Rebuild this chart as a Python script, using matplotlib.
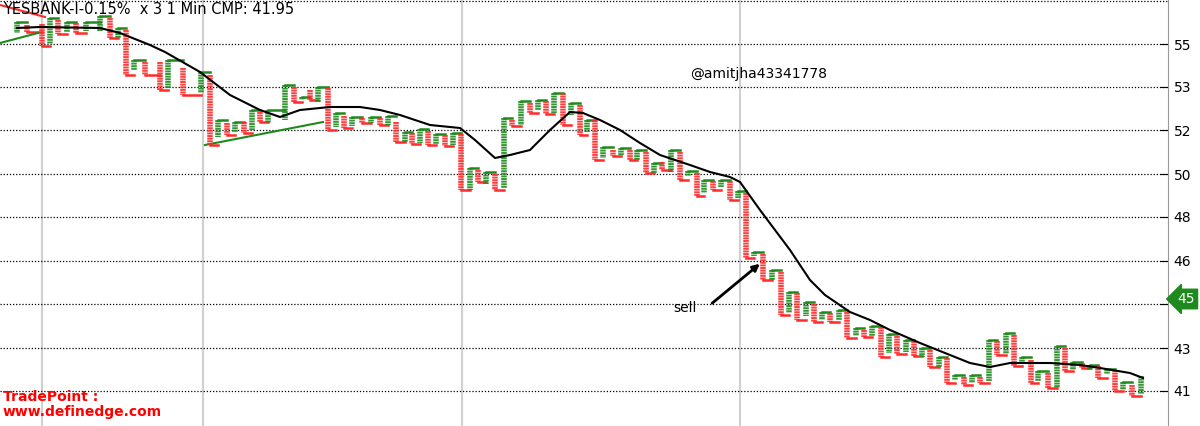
import numpy as np
import matplotlib
matplotlib.use("Agg")
import matplotlib.pyplot as plt

# P&F columns: x position, top, bottom (chart's own vertical scale), colour
col_x = [17, 27, 42, 50, 58, 67, 76, 86, 100, 110, 118, 126, 134, 145, 160, 168, 183, 201,
         210, 218, 227, 235, 244, 252, 260, 268, 285, 294, 302, 310, 318, 328, 336, 344, 352,
         362, 371, 380, 388, 396, 405, 412, 420, 428, 436, 445, 453, 461, 470, 478, 486, 495,
         504, 512, 521, 530, 538, 546, 554, 563, 571, 580, 587, 595, 603, 613, 621, 630, 637,
         646, 654, 662, 671, 680, 688, 697, 704, 713, 721, 730, 738, 746, 754, 763, 772, 781,
         789, 797, 806, 814, 822, 830, 839, 847, 856, 864, 872, 881, 889, 897, 906, 914, 922,
         930, 939, 947, 955, 964, 972, 980, 989, 997, 1006, 1014, 1022, 1031, 1038, 1048, 1057,
         1065, 1073, 1082, 1090, 1098, 1107, 1115, 1123, 1132, 1141]
col_top = [22, 25, 24, 18, 20, 22, 23, 22, 16, 18, 28, 30, 60, 62, 62, 60, 68, 72,
           75, 120, 123, 122, 122, 110, 112, 110, 85, 87, 97, 90, 87, 88, 113, 116, 117,
           118, 117, 118, 116, 122, 132, 133, 129, 131, 134, 135, 133, 134, 168, 170, 172, 174,
           118, 120, 101, 103, 100, 101, 93, 93, 103, 105, 120, 120, 147, 150, 148, 150, 150,
           152, 163, 162, 150, 152, 171, 173, 180, 181, 180, 181, 191, 193, 252, 254, 270, 272,
           292, 293, 302, 304, 312, 313, 310, 312, 328, 330, 326, 327, 334, 336, 340, 341, 348,
           350, 357, 358, 375, 377, 375, 377, 340, 341, 333, 335, 357, 360, 371, 373, 346,
           348, 362, 363, 365, 366, 369, 370, 382, 385, 376]
col_bot = [33, 32, 46, 44, 34, 32, 33, 31, 31, 38, 38, 75, 70, 75, 90, 88, 95, 93,
           145, 137, 135, 132, 133, 130, 122, 123, 120, 102, 100, 100, 102, 130, 127, 128, 126,
           123, 123, 125, 125, 142, 142, 144, 143, 145, 144, 146, 145, 190, 190, 182, 184, 190,
           188, 126, 125, 113, 110, 114, 113, 125, 115, 135, 132, 160, 158, 156, 155, 160, 160,
           173, 173, 170, 172, 180, 176, 196, 193, 190, 187, 200, 198, 258, 256, 280, 280, 315,
           313, 320, 316, 322, 320, 322, 320, 338, 336, 337, 336, 357, 353, 354, 352, 356, 357,
           367, 367, 383, 380, 385, 383, 383, 381, 355, 354, 366, 364, 383, 381, 388, 388,
           371, 370, 368, 370, 378, 374, 391, 390, 396, 394]
col_up = [1, 0, 0, 1, 0, 1, 0, 1, 1, 0, 1, 0, 1, 0, 0, 1, 0, 1,
          0, 1, 0, 1, 0, 1, 0, 1, 1, 0, 1, 0, 1, 0, 1, 0, 1,
          0, 1, 0, 1, 0, 1, 0, 1, 0, 1, 0, 1, 0, 1, 0, 1, 0,
          1, 0, 1, 0, 1, 0, 1, 0, 1, 0, 1, 0, 1, 0, 1, 0, 1,
          0, 1, 0, 1, 0, 1, 0, 1, 0, 1, 0, 1, 0, 1, 0, 1, 0,
          1, 0, 1, 0, 1, 0, 1, 0, 1, 0, 1, 0, 1, 0, 1, 0, 1,
          0, 1, 0, 1, 0, 1, 0, 1, 0, 1, 0, 1, 0, 1, 0, 1,
          0, 1, 0, 1, 0, 1, 0, 1, 0, 1]

# moving average line
ma_x = [17, 40, 100, 120, 150, 165, 200, 230, 260, 280, 300, 330, 360, 380, 400, 430, 460, 475,
        495, 510, 530, 550, 570, 583, 600, 620, 640, 660, 690, 710, 730, 740, 760, 790, 810, 825,
        850, 870, 890, 920, 950, 970, 990, 1010, 1050, 1080, 1100, 1130, 1143]
ma_y = [28, 27, 28, 33, 45, 52, 72, 95, 110, 117, 110, 107, 107, 110, 115, 125, 128, 140,
        158, 155, 150, 130, 112, 113, 120, 130, 143, 155, 165, 172, 177, 182, 210, 250, 280, 295,
        312, 320, 330, 343, 355, 363, 367, 363, 363, 365, 368, 373, 378]

tick_pos = [44, 87, 130, 174, 217, 261, 304, 348, 391]
tick_lab = ["55", "53", "52", "50", "48", "46", "", "43", "41"]
GREEN, RED = "#1e8a1e", "#ff2a2a"

fig = plt.figure(figsize=(12, 4.26), dpi=100)
ax = fig.add_axes([0, 0, 1168 / 1200, 1])
ax.set_xlim(0, 1168)
ax.set_ylim(426, 0)

for y in [1] + tick_pos:
    ax.axhline(y, color="black", ls=(0, (1, 1.5)), lw=0.9, zorder=1)
for x in [42, 203, 462, 740]:
    ax.axvline(x, color="#d0d0d0", lw=1.5, zorder=0)

n = len(col_x)
for i in range(n):
    c = GREEN if col_up[i] else RED
    ax.plot([col_x[i], col_x[i]], [col_top[i], col_bot[i]], color=c, lw=4,
            ls=(0, (0.35, 0.12)), solid_capstyle="butt", alpha=0.9, zorder=3)
    if i < n - 1:
        end = col_top[i] if col_up[i] else col_bot[i]
        ax.plot([col_x[i], col_x[i + 1]], [end, end], color=c, lw=1.8, zorder=2)

ax.plot(ma_x, ma_y, color="black", lw=1.5, zorder=4)

# trend lines
ax.plot([0, 38], [43, 33], color=GREEN, lw=1.5)
ax.plot([205, 323], [145, 122], color=GREEN, lw=1.5)
ax.plot([0, 45], [5, 17], color=RED, lw=1.5)

ax.yaxis.tick_right()
ax.set_yticks(tick_pos)
ax.set_yticklabels(tick_lab, fontsize=10)
ax.tick_params(axis="y", length=6, direction="in", pad=4)
ax.set_xticks([])
for s in ["top", "left", "bottom"]:
    ax.spines[s].set_visible(False)
ax.spines["right"].set_color("#999999")

ax.annotate("45", xy=(1168, 299), xytext=(1186, 299), xycoords="data",
            ha="center", va="center", color="white", fontsize=10, annotation_clip=False,
            bbox=dict(boxstyle="larrow,pad=0.2", fc="#1e8a1e", ec="#1e8a1e"))

ax.text(3, 9, "YESBANK-I-0.15%  x 3 1 Min CMP: 41.95", fontsize=10.5, va="center")
ax.text(690, 74, "@amitjha43341778", fontsize=10, va="center")
ax.text(673, 308, "sell", fontsize=10, va="center")
ax.annotate("", xy=(762, 262), xytext=(710, 305),
            arrowprops=dict(arrowstyle="-|>", color="black", lw=2))
ax.text(3, 397, "TradePoint :", fontsize=10, color="red", fontweight="bold", va="center")
ax.text(3, 412, "www.definedge.com", fontsize=10, color="red", fontweight="bold", va="center")

fig.savefig("out.png", dpi=100)
